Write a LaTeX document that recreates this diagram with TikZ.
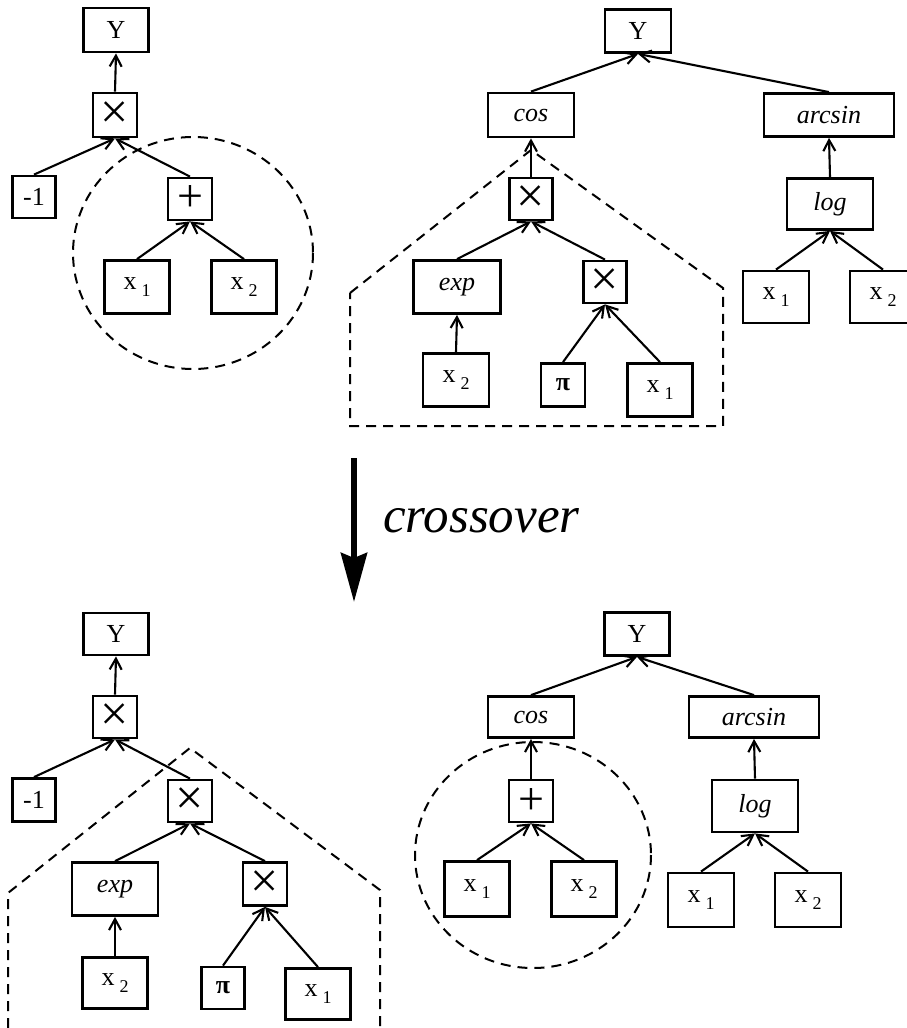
\documentclass[tikz,border=0pt]{standalone}
\usepackage{fontspec}
\setmainfont{Liberation Serif}
\usetikzlibrary{arrows.meta}
\newcommand\xsub[1]{x\hspace{5pt}\raisebox{-7pt}{\fontsize{18}{18}\selectfont #1}}
\begin{document}
\begin{tikzpicture}[x=1pt,y=-1pt,
  bx/.style={draw, line width=2.8pt, inner sep=0pt, font=\fontsize{26}{26}\selectfont},
  sz/.style 2 args={minimum width=#1pt, minimum height=#2pt},
  op/.style={bx, sz={44}{42}},
  mul/.style={op, font=\fontsize{50}{50}\selectfont},
  pls/.style={op, font=\fontsize{46}{46}\selectfont},
  leaf/.style={bx, sz={65}{53}},
  fn/.style={bx, sz={86}{44}, font=\fontsize{26}{26}\selectfont\itshape},
  wide/.style={fn, sz={130}{43}},
  ed/.style={line width=2.1pt, -{Straight Barb[length=11pt,width=12pt]}},
  dsh/.style={line width=2pt, dash pattern=on 10pt off 7pt},
  big/.style={line width=6pt, -{Stealth[length=49pt,width=26pt,inset=5pt]}},
  lbl/.style={font=\fontsize{51}{51}\selectfont\itshape, inner sep=0pt},
]
\useasboundingbox (0,0) rectangle (907,1028);

% ---------- top-left tree ----------
\draw[dsh] (193,253) ellipse [x radius=120, y radius=116];
\node[bx, sz={65}{44}] (tlY) at (116,30) {Y};
\node[mul, sz={44}{44}] (tlM) at (115,115) {×};
\node[bx, sz={43}{42}] (tlN) at (34,197) {-1};
\node[pls] (tlP) at (190,199) {+};
\node[leaf] (tlX1) at (137,287) {\xsub{1}};
\node[leaf] (tlX2) at (244,287) {\xsub{2}};
\draw[ed] (tlM.north) -- (tlY.south);
\draw[ed] (tlN.north) -- (tlM.south);
\draw[ed] (tlP.north) -- (tlM.south);
\draw[ed] (tlX1.north) -- (tlP.south);
\draw[ed] (tlX2.north) -- (tlP.south);

% ---------- top-right tree ----------
\draw[dsh] (350,293) -- (531,150) -- (723,288) -- (723,426) -- (350,426) -- cycle;
\node[bx, sz={66}{43}] (trY) at (638,31) {Y};
\node[fn] (trC) at (531,115) {cos};
\node[wide] (trA) at (829,115) {arcsin};
\node[mul, sz={43}{42}] (trM) at (531,199) {×};
\node[fn, sz={86}{51}] (trL) at (830,204) {log};
\node[fn, sz={87}{53}] (trE) at (457,287) {exp};
\node[mul, sz={43}{42}] (trM2) at (605,282) {×};
\node[leaf, sz={66}{52}] (trLX1) at (776,297) {\xsub{1}};
\node[leaf, sz={66}{52}] (trLX2) at (883,297) {\xsub{2}};
\node[leaf, sz={66}{53}] (trX2) at (456,380) {\xsub{2}};
\node[bx, sz={44}{43}] (trPi) at (563,385) {\bfseries π};
\node[leaf] (trX1) at (660,390) {\xsub{1}};
\draw[ed] (trC.north) -- (trY.south);
\draw[ed] (trA.north) -- (trY.south);
\draw[ed] (trM.north) -- (trC.south);
\draw[ed] (trL.north) -- (trA.south);
\draw[ed] (trE.north) -- (trM.south);
\draw[ed] (trM2.north) -- (trM.south);
\draw[ed] (trLX1.north) -- (trL.south);
\draw[ed] (trLX2.north) -- (trL.south);
\draw[ed] (trX2.north) -- (trE.south);
\draw[ed] (trPi.north) -- (trM2.south);
\draw[ed] (trX1.north) -- (trM2.south);

% ---------- crossover arrow ----------
\coordinate (aTop) at (354,458);
\coordinate (aEnd) at (354,602);
\draw[big] (aTop) -- (aEnd);
\node[lbl, anchor=base west] (cross) at (383,532) {crossover};

% ---------- bottom-left tree ----------
\draw[dsh] (8,1028) -- (8,893) -- (190,748) -- (380,890) -- (380,1028);
\node[bx, sz={65}{42}] (blY) at (116,634) {Y};
\node[mul] (blM) at (115,717) {×};
\node[bx, sz={43}{43}] (blN) at (34,800) {-1};
\node[mul] (blM2) at (190,801) {×};
\node[fn, sz={86}{53}] (blE) at (115,889) {exp};
\node[mul, sz={44}{43}] (blM3) at (265,884) {×};
\node[leaf, sz={65}{51}] (blX2) at (115,983) {\xsub{2}};
\node[bx, sz={43}{42}] (blPi) at (223,988) {\bfseries π};
\node[leaf, sz={65}{51}] (blX1) at (318,994) {\xsub{1}};
\draw[ed] (blM.north) -- (blY.south);
\draw[ed] (blN.north) -- (blM.south);
\draw[ed] (blM2.north) -- (blM.south);
\draw[ed] (blE.north) -- (blM2.south);
\draw[ed] (blM3.north) -- (blM2.south);
\draw[ed] (blX2.north) -- (blE.south);
\draw[ed] (blPi.north) -- (blM3.south);
\draw[ed] (blX1.north) -- (blM3.south);

% ---------- bottom-right tree ----------
\draw[dsh] (533,855) ellipse [x radius=118, y radius=113];
\node[bx, sz={65}{43}] (brY) at (637,634) {Y};
\node[fn, sz={86}{41}] (brC) at (531,717) {cos};
\node[wide, sz={130}{41}] (brA) at (754,717) {arcsin};
\node[pls] (brP) at (531,801) {+};
\node[fn, sz={86}{52}] (brL) at (755,806) {log};
\node[leaf, sz={65}{55}] (brX1) at (477,889) {\xsub{1}};
\node[leaf, sz={65}{55}] (brX2) at (584,889) {\xsub{2}};
\node[leaf, sz={66}{54}] (brLX1) at (701,900) {\xsub{1}};
\node[leaf, sz={66}{54}] (brLX2) at (808,900) {\xsub{2}};
\draw[ed] (brC.north) -- (brY.south);
\draw[ed] (brA.north) -- (brY.south);
\draw[ed] (brP.north) -- (brC.south);
\draw[ed] (brL.north) -- (brA.south);
\draw[ed] (brX1.north) -- (brP.south);
\draw[ed] (brX2.north) -- (brP.south);
\draw[ed] (brLX1.north) -- (brL.south);
\draw[ed] (brLX2.north) -- (brL.south);
\end{tikzpicture}
\end{document}
